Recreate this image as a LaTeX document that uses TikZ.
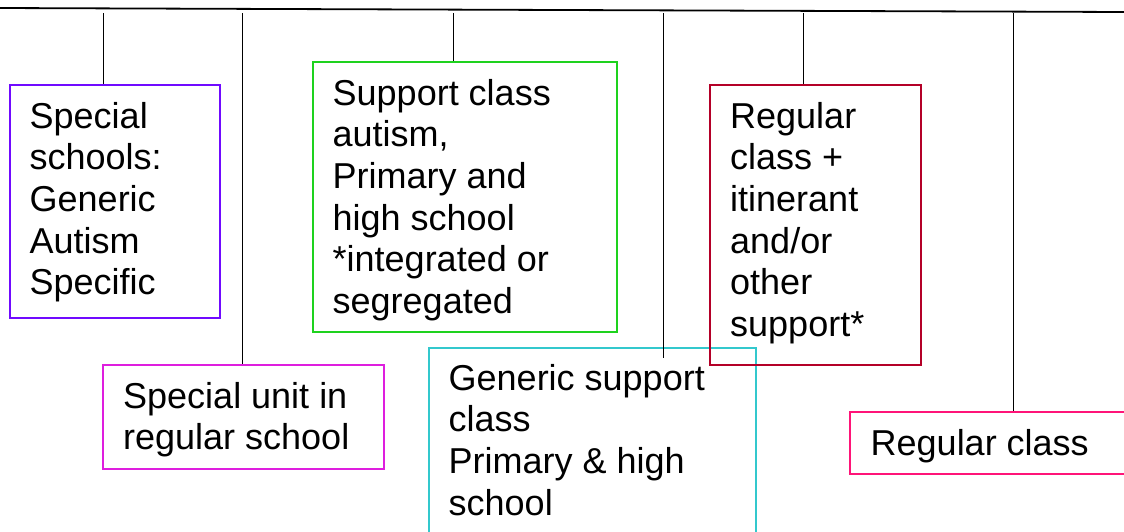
\documentclass[tikz,border=0pt]{standalone}
\usepackage{fontspec}
\setmainfont{Liberation Sans}
\usetikzlibrary{calc}
\definecolor{cpurple}{RGB}{112,10,255}
\definecolor{cmagenta}{RGB}{222,30,222}
\definecolor{cgreen}{RGB}{30,210,30}
\definecolor{ccyan}{RGB}{50,200,205}
\definecolor{ccrimson}{RGB}{180,0,40}
\definecolor{cpink}{RGB}{255,20,120}
\newcommand{\boxlines}[1]{\begin{tabular}[t]{@{}l@{}}#1\end{tabular}}
\tikzset{
  frame/.style={draw=#1, line width=1.5pt, inner sep=0pt, anchor=north west},
  label text/.style={inner sep=0pt, anchor=base west, font=\fontsize{36}{41.7}\selectfont},
  link/.style={draw=black, line width=1pt},
}
\begin{document}
\begin{tikzpicture}[x=1pt,y=-1pt]
\clip (0,0) rectangle (1124,531);
\fill[white] (0,0) rectangle (1124,531);
% top line
\coordinate (tl) at (-2,8);
\coordinate (tr) at (1126,12);
\draw[line width=1.8pt] (tl) -- (tr);
% boxes
\node[frame=cpurple, minimum width=210pt, minimum height=233pt] (b1) at (9,84) {};
\node[frame=cmagenta, minimum width=281pt, minimum height=104pt] (b2) at (102,364) {};
\node[frame=cgreen, minimum width=304pt, minimum height=270pt] (b3) at (312,61) {};
\node[frame=ccyan, minimum width=327pt, minimum height=220pt] (b4) at (428,347) {};
\node[frame=ccrimson, minimum width=211pt, minimum height=280pt] (b5) at (709,84) {};
\node[frame=cpink, minimum width=301pt, minimum height=62pt] (b6) at (849,411) {};
% texts
\node[label text] (t1) at ($(b1.north west)+(20.5,44)$) {\boxlines{Special\\schools:\\Generic\\Autism\\Specific}};
\node[label text] (t2) at ($(b2.north west)+(21,44)$) {\boxlines{Special unit in\\regular school}};
\node[label text] (t3) at ($(b3.north west)+(20.5,44)$) {\boxlines{Support class\\autism,\\Primary and\\high school\\\relax *integrated or\\segregated}};
\node[label text] (t4) at ($(b4.north west)+(20.5,43)$) {\boxlines{Generic support\\class\\Primary \& high\\school}};
\node[label text] (t5) at ($(b5.north west)+(21,44)$) {\boxlines{Regular\\class +\\itinerant\\and/or\\other\\support*}};
\node[label text] (t6) at ($(b6.north west)+(21.5,44)$) {Regular class};
% connectors
\coordinate (c1) at (103,13);
\coordinate (c2) at (242,13);
\coordinate (c3) at (453,13);
\coordinate (c4) at (663,13);
\coordinate (c5) at (803,13);
\coordinate (c6) at (1013,13);
\draw[link] (c1) -- (c1 |- b1.north);
\draw[link] (c2) -- (c2 |- b2.north);
\draw[link] (c3) -- (c3 |- b3.north);
\draw[link] (c4) -- ($(c4 |- b4.north)+(0,11)$);
\draw[link] (c5) -- (c5 |- b5.north);
\draw[link] (c6) -- (c6 |- b6.north);
\end{tikzpicture}
\end{document}
